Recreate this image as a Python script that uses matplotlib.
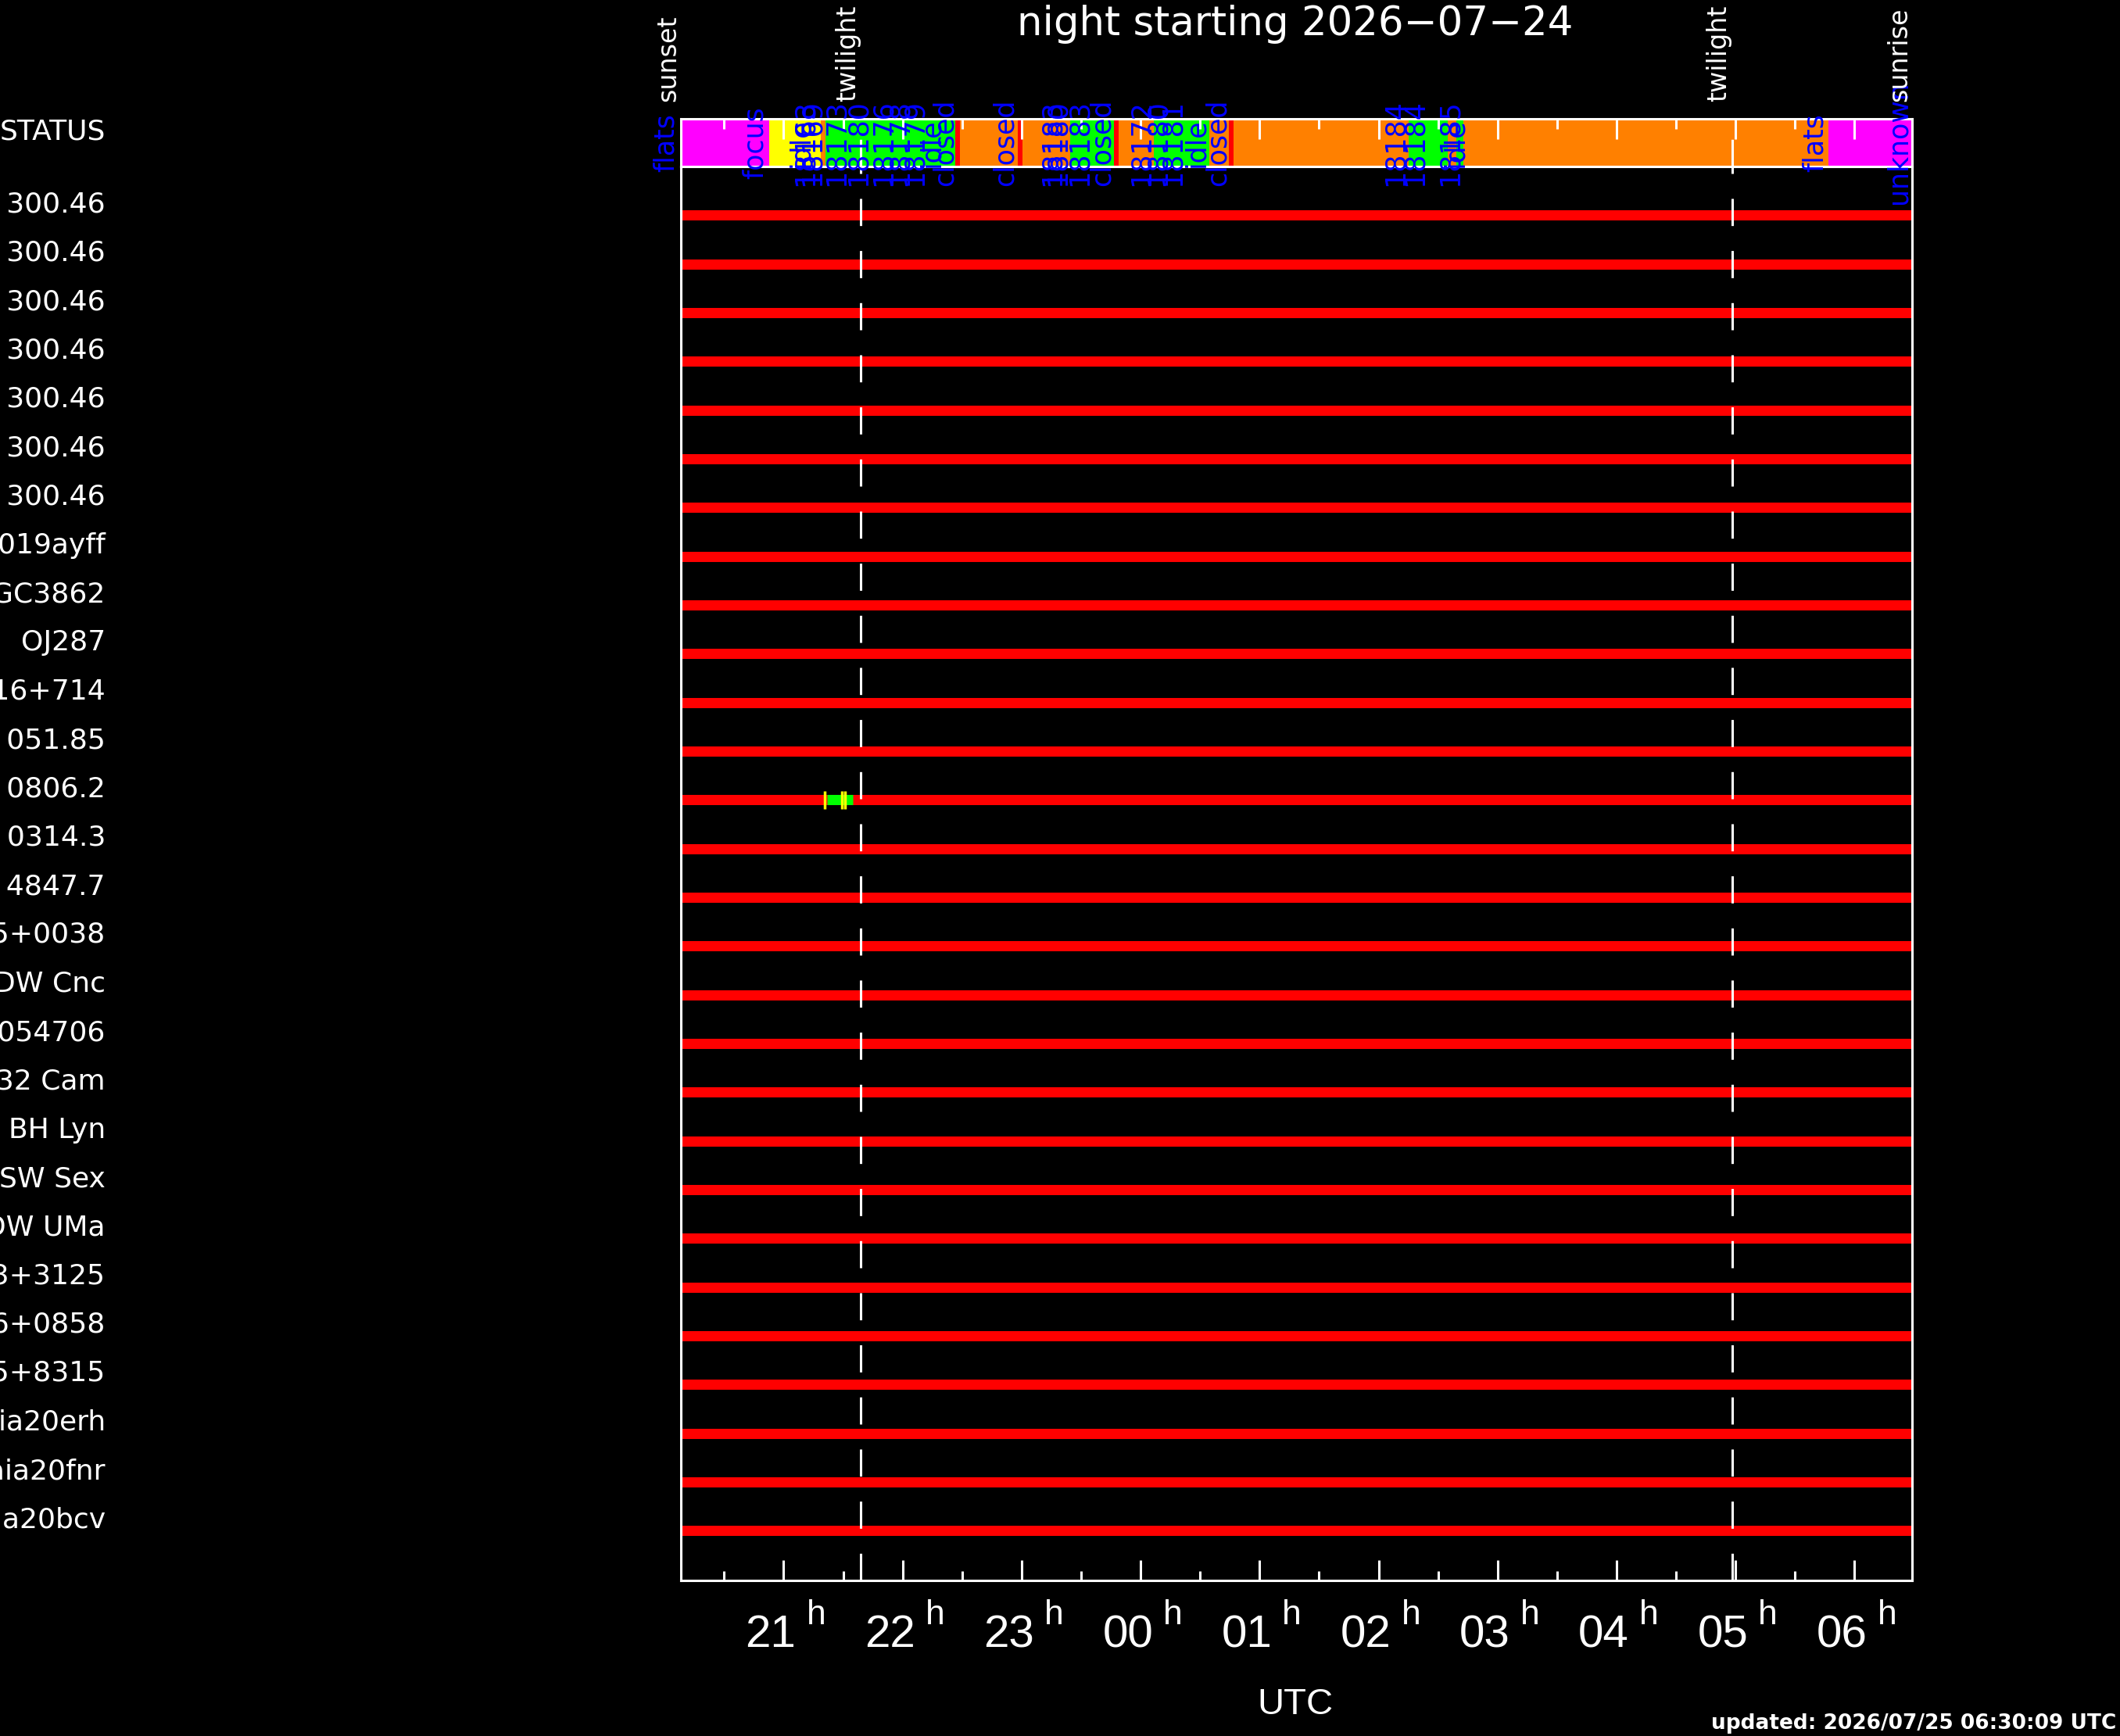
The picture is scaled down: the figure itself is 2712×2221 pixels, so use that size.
import matplotlib
matplotlib.use("Agg")
import matplotlib.pyplot as plt
import matplotlib.transforms as mtransforms

plt.rcParams['lines.scale_dashes'] = False
narrow = ['Liberation Sans', 'DejaVu Sans']

# night limits (hours UTC, >24 means next day)
t_sunset = 20.137
t_sunrise = 30.485
t_twilight = [21.645, 28.97]

# status bar segments
status_start = [20.137, 20.879, 21.313, 21.352, 22.441, 22.482, 22.967, 23.010, 23.411, 23.777,
                23.814, 24.112, 24.580, 24.740, 24.784, 26.252, 26.580, 26.656, 26.711, 29.782]
status_end = status_start[1:] + [30.485]
status_color = ['#ff00ff', '#ffff00', '#ff8000', '#00ff00', '#ff0000', '#ff8000', '#ff0000', '#ff8000',
                '#00ff00', '#ff0000', '#ff8000', '#00ff00', '#ff8000', '#ff0000', '#ff8000', '#00ff00',
                '#ff8000', '#00ff00', '#ff8000', '#ff00ff']

# status labels (time, text)
label_time = [20.12, 20.87, 21.258, 21.293, 21.352, 21.556, 21.740, 21.950, 22.082, 22.213, 22.351,
              22.469, 22.975, 23.369, 23.415, 23.599, 23.789, 24.118, 24.25, 24.381, 24.578, 24.762,
              26.252, 26.416, 26.71, 26.753, 29.78, 30.48]
label_text = ['flats', 'focus', 'idle', '18163', '18169', '18173', '18180', '18176', '18178', '18179', 'idle',
              'closed', 'closed', '18183', '18180', '18183', 'closed', '18172', '18180', '18181', 'idle', 'closed',
              '18184', '18184', '18185', 'idle', 'flats', 'unknown']

# targets
targets = ['GRB 300.46', 'GRB 300.46', 'GRB 300.46', 'GRB 300.46', 'GRB 300.46', 'GRB 300.46', 'GRB 300.46',
           'AT2019ayff', 'NGC3862', 'OJ287', 'S5 0716+714', 'PG 051.85', 'RX 0806.2', 'PKS 0314.3',
           'TON 4847.7', 'J1225+0038', 'DW Cnc', 'TIC 1054706', 'V432 Cam', 'BH Lyn', 'SW Sex', 'DW UMa',
           'J1943+3125', 'J1706+0858', 'J0515+8315', 'Gaia20erh', 'Gaia20fnr', 'Gaia20bcv']
rows = list(range(1, len(targets) + 1))

# one observed window
obs_row = 13
obs_start = 21.366
obs_end = 21.582
obs_marks = [21.346, 21.487, 21.513]

hour_ticks = [21, 22, 23, 24, 25, 26, 27, 28, 29, 30]
hour_labels = ['21', '22', '23', '00', '01', '02', '03', '04', '05', '06']
half_ticks = [20.5, 21.5, 22.5, 23.5, 24.5, 25.5, 26.5, 27.5, 28.5, 29.5]

fig = plt.figure(figsize=(27.12, 22.21), dpi=100, facecolor='black')
ax = fig.add_axes([0.3212, 0.0896, 0.5808, 0.8145])
ax_s = fig.add_axes([0.3212, 0.9041, 0.5808, 0.02746])
ax_s.set_zorder(3)

ax_s.xaxis.set_ticks_position('top')
ax.xaxis.set_ticks_position('bottom')
for a in (ax_s, ax):
    a.set_facecolor('black')
    a.set_xlim(t_sunset, t_sunrise)
    for sp in a.spines.values():
        sp.set_color('white')
        sp.set_linewidth(2.2)
    a.set_xticks(hour_ticks)
    a.set_xticks(half_ticks, minor=True)
    a.tick_params(axis='x', which='both', direction='in', colors='white', width=2.2,
                  labelbottom=False, labeltop=False)
    a.tick_params(axis='x', which='major', length=19)
    a.tick_params(axis='x', which='minor', length=9)
    a.tick_params(axis='y', length=0, pad=530, labelsize=26, labelcolor='white')

# status bar
ax_s.broken_barh([(s, e - s) for s, e in zip(status_start, status_end)], (0, 1), facecolors=status_color)
ax_s.set_ylim(1, 0)
ax_s.set_yticks([0.5], ['STATUS'])

# target rows
ax.set_ylim(29.02, 0)
ax.set_yticks(rows, targets)
ax.hlines(rows, t_sunset, t_sunrise, colors='#ff0000', linewidth=9.4)
ax.hlines(obs_row, obs_start, obs_end, colors='#00ff00', linewidth=9.4)
ax.vlines(obs_marks, obs_row - 0.19, obs_row + 0.19, colors='#ffff00', linewidth=2.5)

shift = mtransforms.ScaledTranslation(0, 4 / 100, fig.dpi_scale_trans)
for a in (ax_s, ax):
    for lab in a.get_yticklabels():
        lab.set_verticalalignment('baseline')
        lab.set_transform(lab.get_transform() + shift)

# twilight lines
for a in (ax_s, ax):
    for t in t_twilight:
        a.axvline(t, color='white', linewidth=2.2, linestyle=(0, (25, 23)), zorder=3)

# status labels
for t, s in zip(label_time, label_text):
    ax_s.text(t, 0.5, s, rotation=90, ha='right', va='center', color='#0000ff',
              fontsize=25, clip_on=False, zorder=4)

# sun / twilight labels
xt = ax_s.get_xaxis_transform()
for t, s in zip([t_sunset, t_twilight[0], t_twilight[1], t_sunrise],
                ['sunset', 'twilight', 'twilight', 'sunrise']):
    ax_s.text(t, 1.36, s, transform=xt, rotation=90, ha='right', va='bottom',
              color='white', fontsize=24, clip_on=False, zorder=5)

# hour labels
xb = ax.get_xaxis_transform()
for h, lab in zip(hour_ticks, hour_labels):
    ax.annotate(lab, (h, -0.047), xycoords=xb, xytext=(16 * 0.72, 0), textcoords='offset points',
                ha='right', va='baseline', color='white', fontsize=42, family=narrow)
    ax.annotate('h', (h, -0.031), xycoords=xb, xytext=(29 * 0.72, 0), textcoords='offset points',
                ha='left', va='baseline', color='white', fontsize=32, family=narrow)

fig.text(0.611, 1 - 31 / 2221, 'night starting 2026\u221207\u221224', ha='center', va='center',
         fontsize=37, color='white')
fig.text(0.611, 1 - 2193 / 2221, 'UTC', ha='center', va='baseline', fontsize=34,
         color='white', family=narrow)
fig.text(2707 / 2712, 1 - 2212 / 2221, 'updated: 2026/07/25 06:30:09 UTC', ha='right', va='baseline',
         fontsize=19, color='white', weight='bold')

fig.savefig('out.png', dpi=100, facecolor='black')
